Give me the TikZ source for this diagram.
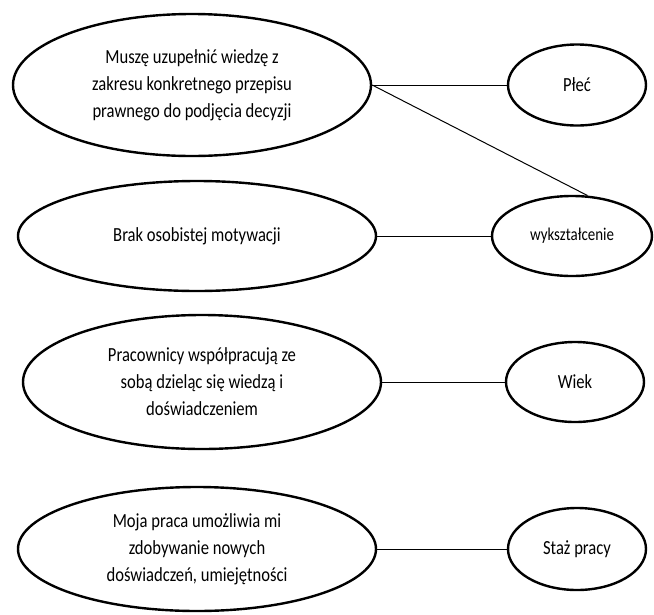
\documentclass[tikz,border=0pt]{standalone}
\usepackage{fontspec}
\setmainfont{Carlito}[FakeStretch=0.83]
\usetikzlibrary{shapes.geometric}

\begin{document}
\begin{tikzpicture}[x=1pt,y=-1pt,
        every node/.style={font=\fontsize{20}{27}\selectfont},
        cause/.style={ellipse, draw, line width=2.4pt, inner sep=0pt,
            minimum width=358pt, align=center},
        factor/.style={ellipse, draw, line width=2.4pt, inner sep=0pt,
            minimum width=138pt, minimum height=81pt},
        link/.style={line width=1pt}
    ]
    \useasboundingbox (0,0) rectangle (654,614);
    % left column
    \node[cause, minimum height=142pt] (wiedza) at (192,85)
        {Muszę uzupełnić wiedzę z\\zakresu konkretnego przepisu\\prawnego do podjęcia decyzji};
    \node[cause, minimum height=110pt] (motyw) at (197,236)
        {Brak osobistej motywacji};
    \node[cause, minimum height=134pt] (wspolpraca) at (202,382)
        {Pracownicy współpracują ze\\sobą dzieląc się wiedzą i\\doświadczeniem};
    \node[cause, minimum height=124pt] (rozwoj) at (197,549)
        {Moja praca umożliwia mi\\zdobywanie nowych\\doświadczeń, umiejętności};
    % right column
    \node[factor] (plec) at (577,85) {Płeć};
    \node[factor, minimum width=160pt, minimum height=80pt,
        font=\fontsize{18}{22}\selectfont] (wyk) at (572,236) {wykształcenie};
    \node[factor, minimum height=80pt] (wiek) at (575,382) {Wiek};
    \node[factor, minimum height=82pt] (staz) at (577,549) {Staż pracy};
    % links
    \draw[link] (wiedza.east) -- (plec.west);
    \draw[link] (wiedza.east) -- (wyk.69);
    \draw[link] (motyw.east) -- (wyk.west);
    \draw[link] (wspolpraca.east) -- (wiek.west);
    \draw[link] (rozwoj.east) -- (staz.west);
\end{tikzpicture}
\end{document}
